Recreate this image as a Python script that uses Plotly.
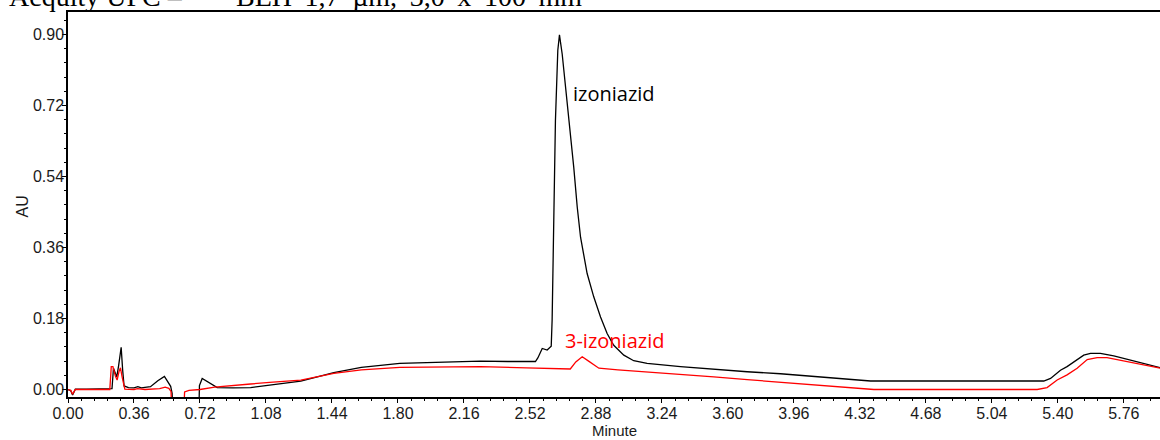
import plotly.graph_objects as go

# ---- data ----
black_x = [0.000, 0.015, 0.025, 0.040, 0.100, 0.200, 0.240, 0.248, 0.256, 0.266, 0.276, 0.290,
           0.298, 0.306, 0.330, 0.360, 0.381, 0.400, 0.450, 0.490, 0.526, 0.545, 0.560, 0.568,
           0.575, 0.712, 0.717, 0.732, 0.760, 0.790, 0.814, 0.900, 0.996, 1.100, 1.270, 1.450,
           1.600, 1.810, 2.000, 2.250, 2.400, 2.550, 2.563, 2.587, 2.614, 2.636, 2.641, 2.650,
           2.659, 2.672, 2.681, 2.696, 2.723, 2.741, 2.759, 2.778, 2.796, 2.832, 2.868, 2.905,
           2.941, 2.977, 3.032, 3.086, 3.159, 3.341, 3.523, 3.705, 3.887, 4.000, 4.200, 4.378,
           4.700, 5.000, 5.323, 5.360, 5.414, 5.450, 5.505, 5.541, 5.578, 5.632, 5.705, 5.814,
           5.905, 5.960]
black_y = [0.000, -0.003, -0.014, 0.001, 0.001, 0.001, 0.002, 0.054, 0.045, 0.032, 0.060, 0.107,
           0.050, 0.009, 0.005, 0.004, 0.007, 0.004, 0.007, 0.022, 0.033, 0.020, 0.008, -0.010,
           -0.100, -0.100, 0.010, 0.028, 0.020, 0.010, 0.005, 0.004, 0.005, 0.011, 0.021, 0.043,
           0.056, 0.066, 0.069, 0.072, 0.071, 0.071, 0.080, 0.104, 0.100, 0.110, 0.176, 0.428,
           0.681, 0.860, 0.899, 0.850, 0.724, 0.656, 0.563, 0.462, 0.386, 0.294, 0.235, 0.184,
           0.142, 0.112, 0.087, 0.073, 0.066, 0.058, 0.051, 0.045, 0.040, 0.036, 0.028, 0.0215,
           0.0215, 0.0215, 0.0215, 0.028, 0.049, 0.058, 0.075, 0.087, 0.0915, 0.0915, 0.085, 0.073,
           0.062, 0.055]

red_x = [0.000, 0.015, 0.025, 0.040, 0.100, 0.228, 0.236, 0.245, 0.258, 0.268, 0.278, 0.286,
         0.296, 0.310, 0.360, 0.380, 0.420, 0.500, 0.530, 0.550, 0.562, 0.570, 0.628, 0.636,
         0.660, 0.720, 0.800, 0.900, 0.996, 1.100, 1.270, 1.450, 1.600, 1.810, 2.000, 2.250,
         2.500, 2.740, 2.770, 2.805, 2.840, 2.896, 3.000, 3.159, 3.341, 3.523, 3.705, 3.887,
         4.100, 4.250, 4.396, 4.700, 5.000, 5.287, 5.341, 5.396, 5.450, 5.505, 5.560, 5.614,
         5.668, 5.796, 5.905, 5.960]
red_y = [0.000, -0.002, -0.012, 0.000, 0.000, 0.000, 0.058, 0.058, 0.035, 0.024, 0.045, 0.055,
         0.030, 0.001, 0.000, 0.002, 0.000, 0.002, 0.006, 0.003, -0.005, -0.100, -0.100, -0.006,
         -0.002, 0.000, 0.006, 0.011, 0.014, 0.018, 0.024, 0.041, 0.050, 0.056, 0.057, 0.058,
         0.055, 0.052, 0.070, 0.083, 0.072, 0.054, 0.050, 0.045, 0.038, 0.032, 0.025, 0.018,
         0.011, 0.005, 0.000, 0.000, 0.000, 0.000, 0.005, 0.024, 0.037, 0.054, 0.076, 0.081,
         0.081, 0.070, 0.059, 0.054]

x_ticks = [0.00, 0.36, 0.72, 1.08, 1.44, 1.80, 2.16, 2.52, 2.88, 3.24, 3.60, 3.96, 4.32,
           4.68, 5.04, 5.40, 5.76]
x_tick_labels = ["0.00", "0.36", "0.72", "1.08", "1.44", "1.80", "2.16", "2.52", "2.88",
                 "3.24", "3.60", "3.96", "4.32", "4.68", "5.04", "5.40", "5.76"]
y_ticks = [0.00, 0.18, 0.36, 0.54, 0.72, 0.90]
y_tick_labels = ["0.00", "0.18", "0.36", "0.54", "0.72", "0.90"]

peak_labels = ["izoniazid", "3-izoniazid"]
peak_label_x = [2.98, 2.98]
peak_label_y = [0.75, 0.125]

x_title = "Minute"
y_title = "AU"
title_left = "Acquity UPC –"
title_right = ("BEH\u00a0\u20091,7\u00a0\u2009µm,\u00a0\u20093,0\u00a0\u2009x"
               "\u00a0\u2009100\u00a0\u2009mm")

fig = go.Figure()
fig.add_trace(go.Scatter(x=black_x, y=black_y, mode="lines",
                         line=dict(color="#000000", width=1.3), showlegend=False))
fig.add_trace(go.Scatter(x=red_x, y=red_y, mode="lines",
                         line=dict(color="#ff0000", width=1.3), showlegend=False))

tick_font = dict(family="Liberation Sans, Arial", size=16, color="#1a1a1a")

fig.update_layout(
    width=1160, height=440,
    margin=dict(l=68, r=0, t=12, b=43, autoexpand=False),
    paper_bgcolor="white", plot_bgcolor="white",
    xaxis=dict(range=[0, 5.957], tickmode="array", tickvals=x_ticks, ticktext=x_tick_labels,
               ticks="outside", ticklen=4, tickcolor="black", tickwidth=1,
               minor=dict(dtick=0.072, tick0=0, ticks="outside", ticklen=2, tickcolor="black"),
               showline=True, linecolor="black", linewidth=1.5, mirror=True,
               showgrid=False, zeroline=False, tickfont=tick_font, automargin=False,
               ticklabelstandoff=-3),
    yaxis=dict(range=[-0.019, 0.957], tickmode="array", tickvals=y_ticks, ticktext=y_tick_labels,
               ticks="outside", ticklen=4, tickcolor="black", tickwidth=1,
               minor=dict(dtick=0.036, tick0=0, ticks="outside", ticklen=2, tickcolor="black"),
               showline=True, linecolor="black", linewidth=1.5, mirror=False,
               showgrid=False, zeroline=False, tickfont=tick_font, automargin=False,
               ticklabelstandoff=-5),
)

# axis titles
fig.add_annotation(xref="paper", yref="paper", x=0.5, y=0, yanchor="middle", yshift=-33,
                   text=x_title, showarrow=False,
                   font=dict(family="Liberation Sans, Arial", size=15, color="#1a1a1a"))
fig.add_annotation(xref="paper", yref="paper", x=0, y=0.5, xanchor="center", xshift=-46,
                   yshift=-2, text=y_title, textangle=-90, showarrow=False,
                   font=dict(family="Liberation Sans, Arial", size=16, color="#1a1a1a"))

# peak labels
fig.add_annotation(x=peak_label_x[0], y=peak_label_y[0], text=peak_labels[0], showarrow=False,
                   font=dict(family="Open Sans", size=20, color="black"))
fig.add_annotation(x=peak_label_x[1], y=peak_label_y[1], text=peak_labels[1], showarrow=False,
                   font=dict(family="Open Sans", size=20, color="#ff0000"))

# cropped heading above the chart
fig.add_annotation(xref="paper", yref="paper", x=0, y=1, xanchor="left", yanchor="bottom",
                   xshift=-61, yshift=-2, text=title_left, showarrow=False,
                   font=dict(family="Liberation Serif", size=28, color="black"))
fig.add_annotation(xref="paper", yref="paper", x=0, y=1, xanchor="left", yanchor="bottom",
                   xshift=166, yshift=-2, text=title_right, showarrow=False,
                   font=dict(family="Liberation Serif", size=28, color="black"))

fig.write_html("out.html", config={"displayModeBar": False},
               post_script="document.body.style.margin='0';document.body.style.overflow='hidden';")
